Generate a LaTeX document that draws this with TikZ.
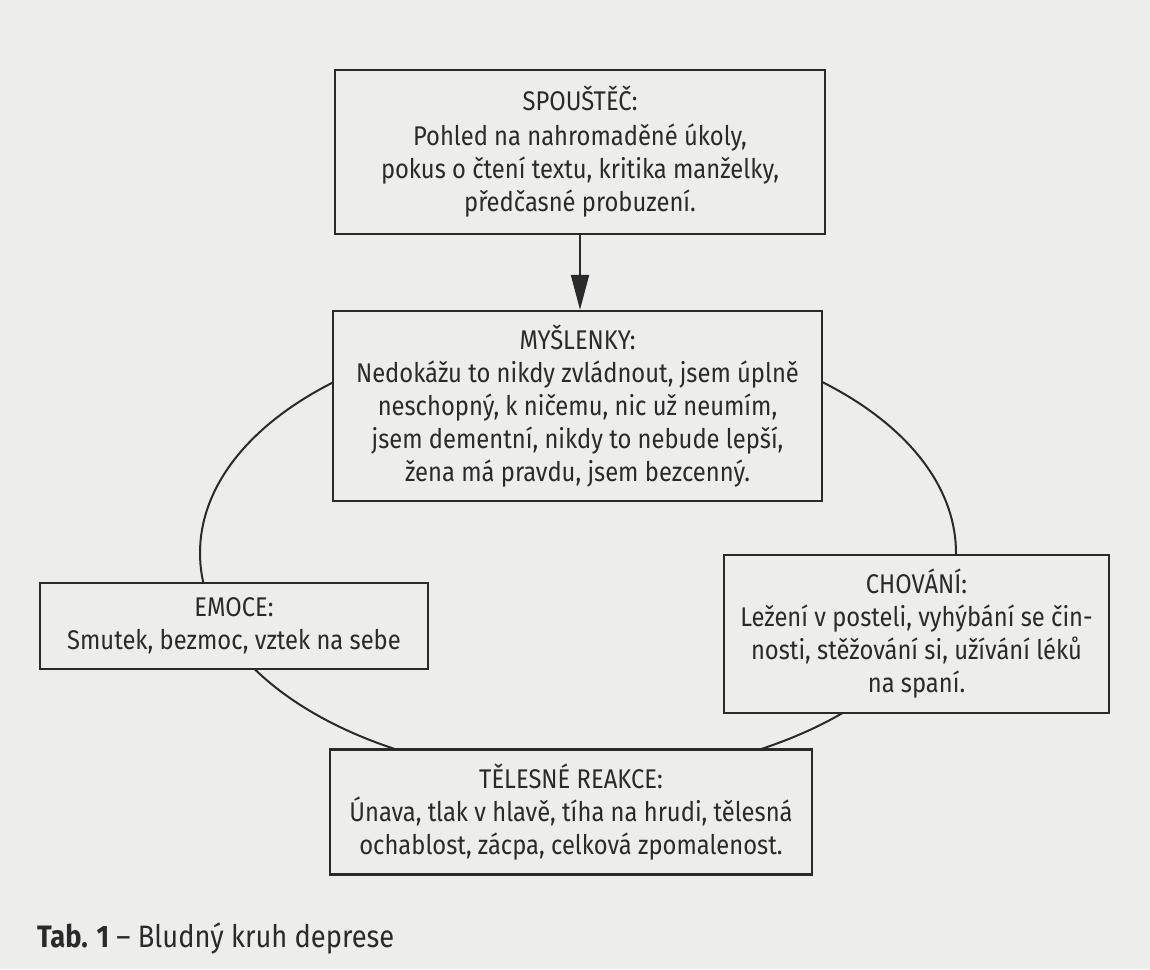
\documentclass[tikz,border=0pt]{standalone}
\usepackage{fontspec}
\setmainfont[FakeStretch=0.88]{Fira Sans}
\usetikzlibrary{arrows.meta}

\definecolor{paper}{RGB}{237,237,236}
\definecolor{ink}{RGB}{42,42,42}

\begin{document}
\begin{tikzpicture}[
    x=0.5pt, y=-0.5pt,
    every node/.style={text=ink, font=\fontsize{13.5}{16.5}\selectfont},
    box/.style={draw=ink, fill=paper, line width=1.2pt, align=center,
                inner sep=0pt},
    kruhcara/.style={draw=ink, line width=1pt},
    sipka/.style={draw=ink, line width=1pt, -{Triangle[length=17.5pt, width=9pt]}}]

\useasboundingbox[fill=paper] (0,0) rectangle (1150,969);

% bludny kruh
\coordinate (kruh) at (578,553);
\draw[kruhcara] (kruh) ellipse [x radius=378, y radius=224];

\node[box, minimum width=245pt, minimum height=82pt] (spoustec) at (580,152)
    {SPOUŠTĚČ:\\[1pt]
     Pohled na nahromaděné úkoly,\\
     pokus o čtení textu, kritika manželky,\\
     předčasné probuzení.};

\node[box, minimum width=244.5pt, minimum height=95pt] (myslenky) at (577.5,406)
    {MYŠLENKY:\\
     Nedokážu to nikdy zvládnout, jsem úplně\\
     neschopný, k ničemu, nic už neumím,\\
     jsem dementní, nikdy to nebude lepší,\\
     žena má pravdu, jsem bezcenný.};

\node[box, minimum width=194pt, minimum height=43pt] (emoce) at (234,626)
    {EMOCE:\\
     Smutek, bezmoc, vztek na sebe};

\node[box, minimum width=192.5pt, minimum height=79pt] (chovani) at (916.5,634)
    {CHOVÁNÍ:\\
     Ležení v posteli, vyhýbání se čin-\\
     nosti, stěžování si, užívání léků\\
     na spaní.};

\node[box, minimum width=241pt, minimum height=62.5pt] (telesne) at (571,812)
    {TĚLESNÉ REAKCE:\\
     Únava, tlak v hlavě, tíha na hrudi, tělesná\\
     ochablost, zácpa, celková zpomalenost.};

\draw[sipka] (spoustec.south) -- (myslenky.north -| spoustec.south);

\node[anchor=west, font=\fontsize{15.5}{19}\selectfont] (popisek) at (30,938)
    {\textbf{Tab. 1} – Bludný kruh deprese};

\end{tikzpicture}
\end{document}
